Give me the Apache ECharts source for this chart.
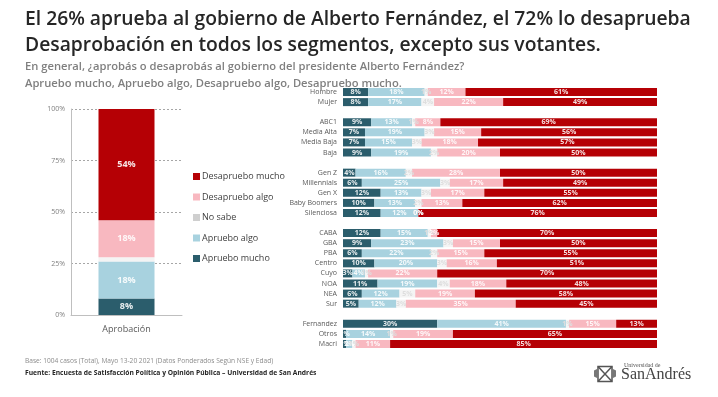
<!DOCTYPE html>
<html>
<head>
<meta charset="utf-8">
<script src="https://cdn.jsdelivr.net/npm/echarts@6/dist/echarts.min.js"></script>
<style>
  html, body { margin: 0; padding: 0; background: #fff; }
  #chart { width: 718px; height: 397px; }
</style>
</head>
<body>
<div id="chart"></div>
<script>
// total
const totalCat = ['Aprobación'];
const totalAprMucho = [8];
const totalAprAlgo = [18];
const totalNoSabe = [2];
const totalDesAlgo = [18];
const totalDesMucho = [54];

// segmentos (groups separated by an empty row)
const segments = [
  'Hombre', 'Mujer',
  'ABC1', 'Media Alta', 'Media Baja', 'Baja',
  'Gen Z', 'Millennials', 'Gen X', 'Baby Boomers', 'Silenciosa',
  'CABA', 'GBA', 'PBA', 'Centro', 'Cuyo', 'NOA', 'NEA', 'Sur',
  'Fernandez', 'Otros', 'Macri'
];
const groupSizes = [2, 4, 5, 8, 3];
const aprMucho = [8, 8, 9, 7, 7, 9, 4, 6, 12, 10, 12, 12, 9, 6, 10, 3, 11, 6, 5, 30, 1, 1];
const aprAlgo = [18, 17, 13, 19, 15, 19, 16, 25, 13, 13, 12, 15, 23, 22, 20, 4, 19, 12, 12, 41, 14, 2];
const noSabe = [1, 4, 1, 3, 3, 2, 2, 3, 3, 2, 0, 1, 3, 2, 3, 1, 4, 5, 3, 1, 1, 1];
const desAlgo = [12, 22, 8, 15, 18, 20, 28, 17, 17, 13, 0, 2, 15, 15, 16, 22, 18, 19, 35, 15, 19, 11];
const desMucho = [61, 49, 69, 56, 57, 50, 50, 49, 55, 62, 76, 70, 50, 55, 51, 70, 48, 58, 45, 13, 65, 85];

const yTicks = [0, 25, 50, 75, 100];

const names = ['Apruebo mucho', 'Apruebo algo', 'No sabe', 'Desapruebo algo', 'Desapruebo mucho'];
const colors = ['#2b5d6c', '#a8d2df', '#f4f4f4', '#f8b8c0', '#b50005'];

// insert an empty row between groups
function rowsWithSpacers(arr, blank) {
  const out = [];
  let k = 0;
  groupSizes.forEach((n, g) => {
    if (g > 0) out.push(blank(g));
    for (let i = 0; i < n; i++) out.push(arr[k++]);
  });
  return out;
}
const rows = rowsWithSpacers(segments, g => ' '.repeat(g));

const leftData = [totalAprMucho, totalAprAlgo, totalNoSabe, totalDesAlgo, totalDesMucho];
const rightData = [aprMucho, aprAlgo, noSabe, desAlgo, desMucho];

const chart = echarts.init(document.getElementById('chart'));

const series = [];
names.forEach((name, i) => {
  series.push({
    name: name,
    type: 'bar',
    stack: 'total',
    xAxisIndex: 0,
    yAxisIndex: 0,
    barWidth: 56,
    data: leftData[i],
    itemStyle: { color: colors[i] },
    label: {
      show: i !== 2,
      formatter: p => p.value + '%',
      color: 'rgba(255,255,255,0.9)',
      fontSize: 9,
      fontWeight: 'bold'
    }
  });
});
names.forEach((name, i) => {
  series.push({
    name: name,
    type: 'bar',
    stack: 'seg',
    xAxisIndex: 1,
    yAxisIndex: 1,
    barWidth: 8,
    data: rowsWithSpacers(rightData[i], () => '-'),
    itemStyle: { color: colors[i] },
    label: {
      show: true,
      formatter: p => p.value + '%',
      color: i === 2 ? '#dedede' : 'rgba(255,255,255,0.88)',
      fontSize: 7,
      fontWeight: 'bold'
    }
  });
});

const option = {
  animation: false,
  textStyle: { fontFamily: 'Open Sans' },
  legend: {
    data: [
      { name: 'Desapruebo mucho' },
      { name: 'Desapruebo algo' },
      { name: 'No sabe', itemStyle: { color: '#cfcfcf' } },
      { name: 'Apruebo algo' },
      { name: 'Apruebo mucho' }
    ],
    orient: 'vertical',
    left: 188,
    top: 167,
    itemWidth: 7,
    itemHeight: 7,
    itemGap: 11.5,
    icon: 'rect',
    textStyle: { fontSize: 9, color: '#404040', fontFamily: 'Open Sans', padding: [0, 0, 0, -3] },
    selectedMode: false
  },
  grid: [
    { left: 71, top: 109, width: 111, height: 206 },
    { left: 343, top: 87, width: 314, height: 262 }
  ],
  xAxis: [
    {
      gridIndex: 0,
      type: 'category',
      data: totalCat,
      axisLine: { lineStyle: { color: '#bfbfbf' } },
      axisTick: { show: false },
      axisLabel: { fontSize: 9, color: '#595959', margin: 10 }
    },
    {
      gridIndex: 1,
      type: 'value',
      min: 0,
      max: 100,
      show: false
    }
  ],
  yAxis: [
    {
      gridIndex: 0,
      type: 'value',
      min: 0,
      max: 100,
      interval: 25,
      axisLine: { show: true, lineStyle: { color: '#bfbfbf' } },
      axisTick: { show: false },
      axisLabel: {
        fontSize: 7,
        color: '#7f7f7f',
        margin: 6,
        formatter: v => (yTicks.indexOf(v) >= 0 ? v + '%' : '')
      },
      splitLine: { lineStyle: { color: '#a6a6a6', type: [2, 2] } }
    },
    {
      gridIndex: 1,
      type: 'category',
      inverse: true,
      data: rows,
      axisLine: { show: false },
      axisTick: { show: false },
      axisLabel: { fontSize: 7, color: '#595959', margin: 6 }
    }
  ],
  graphic: [
    {
      type: 'text', left: 25, top: 10,
      style: {
        text: 'El 26% aprueba al gobierno de Alberto Fernández, el 72% lo desaprueba',
        font: '600 19.3px "Open Sans"', fill: '#262626'
      }
    },
    {
      type: 'text', left: 25, top: 36,
      style: {
        text: 'Desaprobación en todos los segmentos, excepto sus votantes.',
        font: '600 19.3px "Open Sans"', fill: '#262626'
      }
    },
    {
      type: 'text', left: 25, top: 61,
      style: {
        text: 'En general, ¿aprobás o desaprobás al gobierno del presidente Alberto Fernández?',
        font: '600 11.2px "Open Sans"', fill: '#7f7f7f'
      }
    },
    {
      type: 'text', left: 25, top: 78,
      style: {
        text: 'Apruebo mucho, Apruebo algo, Desapruebo algo, Desapruebo mucho.',
        font: '600 11.2px "Open Sans"', fill: '#7f7f7f'
      }
    },
    {
      type: 'text', left: 25, top: 358,
      style: {
        text: 'Base: 1004 casos (Total), Mayo 13-20 2021 (Datos Ponderados Según NSE y Edad)',
        font: '6.6px "Open Sans"', fill: '#8c8c8c'
      }
    },
    {
      type: 'text', left: 25, top: 370,
      style: {
        text: 'Fuente: Encuesta de Satisfacción Política y Opinión Pública – Universidad de San Andrés',
        font: 'bold 6.7px "Open Sans"', fill: '#262626'
      }
    },
    // logo
    {
      type: 'group', left: 594, top: 364,
      children: [
        { type: 'rect', shape: { x: 4, y: 0, width: 14, height: 15 }, style: { fill: 'none', stroke: '#555', lineWidth: 1.5 } },
        { type: 'line', shape: { x1: 4, y1: 0, x2: 18, y2: 15 }, style: { stroke: '#555', lineWidth: 1.5 } },
        { type: 'line', shape: { x1: 18, y1: 0, x2: 4, y2: 15 }, style: { stroke: '#555', lineWidth: 1.5 } },
        { type: 'polygon', shape: { points: [[0, 4], [4, 2], [4, 12], [0, 10]] }, style: { fill: '#777' } },
        { type: 'polygon', shape: { points: [[22, 4], [18, 2], [18, 12], [22, 10]] }, style: { fill: '#777' } }
      ]
    },
    {
      type: 'text', left: 624, top: 362,
      style: { text: 'Universidad de', font: '6px "Liberation Serif"', fill: '#555' }
    },
    {
      type: 'text', left: 621, top: 367,
      style: { text: 'SanAndrés', font: '16px "Liberation Serif"', fill: '#444' }
    }
  ],
  series: series
};

chart.setOption(option);
</script>
</body>
</html>
